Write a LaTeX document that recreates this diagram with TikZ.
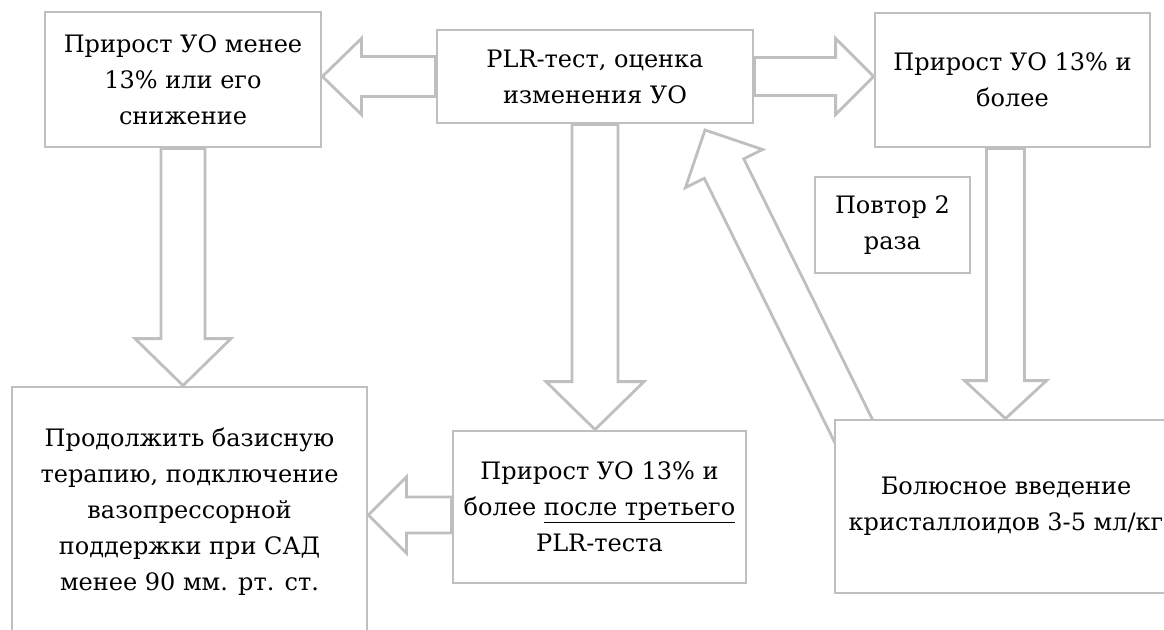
\documentclass[tikz,border=0pt]{standalone}
\usepackage{fontspec}
\setmainfont{DejaVu Serif}
\usetikzlibrary{calc, backgrounds}
\definecolor{cline}{HTML}{BFBFBF}
\tikzset{
  every picture/.style={x=1pt, y=-1pt},
  box/.style={draw=cline, line width=2.8pt, fill=white, align=center, inner sep=0pt, font=\fontsize{24}{36}\selectfont},
  fat/.style={draw=cline, line width=2.8pt, fill=white, line join=miter},
}
% hollow block arrow: from, to, half shaft, half head, head length
\newcommand{\fatarrow}[5]{%
  \coordinate (fa-a) at (#1);
  \coordinate (fa-b) at (#2);
  \coordinate (fa-m) at ($(fa-b)!#5!(fa-a)$);
  \draw[fat] ($(fa-a)!#3!90:(fa-b)$) -- ($(fa-m)!#3!90:(fa-b)$) -- ($(fa-m)!#4!90:(fa-b)$)
    -- (fa-b) -- ($(fa-m)!#4!-90:(fa-b)$) -- ($(fa-m)!#3!-90:(fa-b)$) -- ($(fa-a)!#3!-90:(fa-b)$) -- cycle;}

\begin{document}
\begin{tikzpicture}
  \useasboundingbox (0,0) rectangle (1164,629);
  \node[box, minimum width=276pt, minimum height=135pt] (less) at (183,79.5) {Прирост УО менее\\13\% или его\\снижение};
  \node[box, minimum width=316pt, minimum height=93pt] (plr) at (595,76.5) {PLR-тест, оценка\\изменения УО};
  \node[box, minimum width=275pt, minimum height=134pt] (more) at (1012.5,80) {Прирост УО 13\% и\\более};
  \node[box, minimum width=155pt, minimum height=96pt] (rep) at (892.5,225) {Повтор 2\\раза};
  \node[box, minimum width=355pt, minimum height=250pt] (cont) at (189.5,512) {Продолжить базисную\\терапию, подключение\\вазопрессорной\\поддержки при САД\\менее 90 мм. рт. ст.};
  \node[box, minimum width=293pt, minimum height=152pt] (third) at (599.5,507) {Прирост УО 13\% и\\более \underline{после третьего}\\PLR-теста};
  \node[box, minimum width=342pt, minimum height=173pt] (bolus) at (1006,506.5) {Болюсное введение\\кристаллоидов 3-5 мл/кг};
  % repeat loop back to the test
  \coordinate (back) at (862,448);
  \coordinate (loop) at (705,130);
  \begin{scope}[on background layer]
    \fatarrow{plr.west}{plr.west -| less.east}{20pt}{38pt}{39pt}
    \fatarrow{plr.east}{plr.east -| more.west}{19pt}{38pt}{38pt}
    \fatarrow{less.south}{less.south |- cont.north}{22pt}{48pt}{47pt}
    \fatarrow{plr.south}{plr.south |- third.north}{23pt}{49pt}{48pt}
    \fatarrow{[xshift=-7pt]more.south}{[xshift=-7pt]more.south |- bolus.north}{19pt}{41pt}{38pt}
    \fatarrow{[yshift=-8pt]third.west}{[yshift=-8pt]third.west -| cont.east}{18pt}{38pt}{38pt}
    \fatarrow{back}{loop}{22pt}{43pt}{43pt}
  \end{scope}
\end{tikzpicture}
\end{document}
